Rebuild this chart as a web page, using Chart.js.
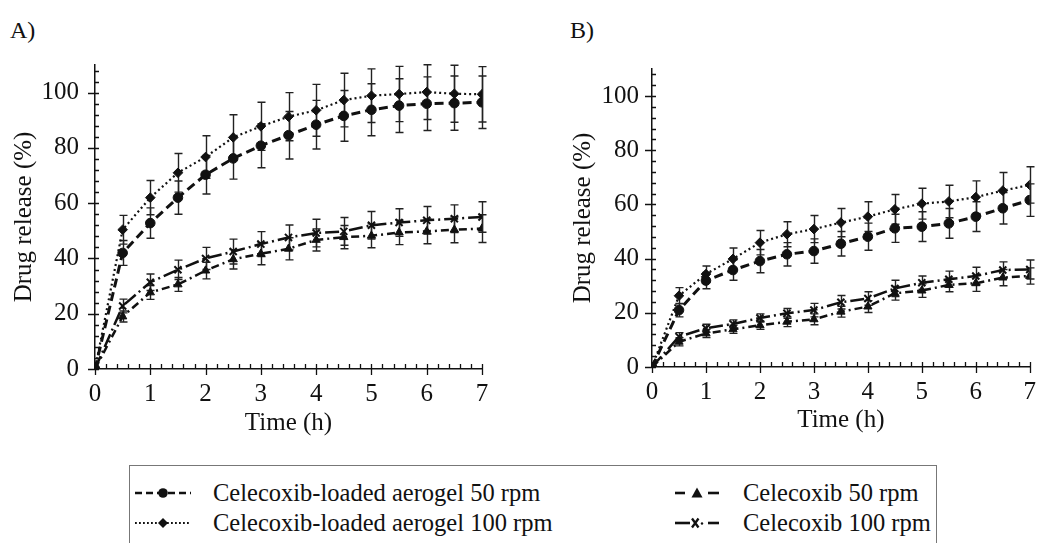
<!DOCTYPE html>
<html>
<head>
<meta charset="utf-8">
<script src="https://cdn.jsdelivr.net/npm/chart.js@4.4.1/dist/chart.umd.min.js"></script>
<style>
  html, body { margin: 0; padding: 0; background: #fff; }
  body { width: 1046px; height: 543px; position: relative; overflow: hidden;
         font-family: 'Liberation Serif', serif; color: #111; }
  canvas { position: absolute; top: 0; }
  #chartA { left: 0; }
  #chartB { left: 540px; }
  .panel-tag { position: absolute; top: 16px; font-size: 24px; line-height: 28px; }
  .legend-box { position: absolute; left: 129px; top: 465px; width: 806px; height: 100px;
                border: 1.5px solid #777; border-bottom: none; }
  .legend-item { position: absolute; font-size: 24.5px; line-height: 28px; white-space: nowrap; }
  .legend-item svg { position: absolute; top: 7px; overflow: visible; }
</style>
</head>
<body>
<div class="panel-tag" style="left:10px">A)</div>
<div class="panel-tag" style="left:570px">B)</div>
<canvas id="chartA" width="520" height="450"></canvas>
<canvas id="chartB" width="506" height="450"></canvas>
<div class="legend-box"></div>
<div id="legend"></div>

<script>
// Sampling times (h)
const times = [0, 0.5, 1, 1.5, 2, 2.5, 3, 3.5, 4, 4.5, 5, 5.5, 6, 6.5, 7];
const yTicks = [0, 20, 40, 60, 80, 100];

const seriesLabels = [
  'Celecoxib-loaded aerogel 50 rpm',
  'Celecoxib-loaded aerogel 100 rpm',
  'Celecoxib 50 rpm',
  'Celecoxib 100 rpm'
];

// Panel A - drug release (%) and SD
const aero50A   = [0, 42, 52.8, 62, 70.3, 76.2, 80.8, 84.6, 88.4, 91.6, 93.8, 95.3, 96, 96.2, 96.5];
const aero50ASd = [0, 4.5, 5.5, 6, 7, 7.5, 8, 8.6, 8.8, 9.2, 9.4, 9.7, 9.7, 9.8, 9.5];
const aero100A   = [0, 50.4, 62, 71, 76.7, 83.8, 87.8, 91.3, 93.6, 97.3, 98.9, 99.5, 100.2, 99.6, 99.4];
const aero100ASd = [0, 5.2, 6.2, 7, 7.7, 8.2, 8.7, 8.7, 9.4, 9.7, 9.7, 10, 9.9, 10.3, 10];
const cel50A   = [0, 19, 27.7, 30.6, 35.6, 39.7, 41.7, 43.5, 46.7, 47.7, 48.2, 49.4, 49.8, 50.4, 50.8];
const cel50ASd = [0, 2, 2.5, 2.5, 3, 3.5, 4, 4, 4, 4.2, 4.3, 4.4, 4.5, 4.7, 5];
const cel100A   = [0, 22.8, 31.4, 35.9, 40, 42.5, 45.2, 47.6, 49.2, 49.8, 52, 53, 53.8, 54.4, 55];
const cel100ASd = [0, 2.5, 3, 3.5, 4, 4.5, 4.5, 4.5, 5, 5, 5, 5, 5, 5, 5.5];

// Panel B
const aero50B   = [0, 21, 31.9, 35.8, 39.1, 41.6, 42.8, 45.5, 48.1, 51.2, 51.8, 53, 55.5, 58.6, 61.6];
const aero50BSd = [0, 2.5, 3, 3.8, 4.3, 4.3, 4.5, 4.5, 5, 5.2, 5.5, 5.5, 5.5, 5.8, 6];
const aero100B   = [0, 26.3, 34.3, 39.9, 45.9, 49, 50.9, 53.3, 55.5, 58.2, 60.3, 61.1, 62.7, 65.1, 67.2];
const aero100BSd = [0, 3, 3, 4, 4.5, 4.6, 5, 5.2, 5.5, 5.5, 5.7, 6, 6, 6.7, 6.7];
const cel50B   = [0, 9.3, 12.4, 13.9, 15.4, 16.7, 17.6, 20.4, 22.3, 27.2, 28.2, 30.3, 30.9, 33, 33.6];
const cel50BSd = [0, 1.5, 1.5, 1.5, 1.5, 1.8, 2, 2, 2.2, 2.5, 2.5, 2.5, 3, 3, 3];
const cel100B   = [0, 11.2, 14.3, 15.9, 18.1, 19.8, 21, 23.9, 25.3, 29, 31.1, 32.4, 33.6, 35.8, 36];
const cel100BSd = [0, 1.5, 1.5, 1.5, 1.5, 1.8, 2.5, 2.5, 2.5, 3, 2.5, 3, 3.2, 3, 3.5];

const ink = '#111';

// line / marker look per series (same order as seriesLabels)
const looks = [
  { dash: [9, 5], width: 3, point: 'circle', radius: 4.8, pbw: 1 },
  { dash: [2, 3], width: 2.2, point: 'rectRot', radius: 4.8, pbw: 1 },
  { dash: [8, 4, 2, 4], width: 2.5, point: 'triangle', radius: 4.8, pbw: 1 },
  { dash: [14, 4, 2, 4], width: 2.5, point: 'crossRot', radius: 5, pbw: 2 }
];

Chart.defaults.font.family = "'Liberation Serif', serif";
Chart.defaults.color = ink;

// vertical error bars, drawn under the markers
const errorBars = {
  id: 'errorBars',
  beforeDatasetsDraw(chart) {
    const { ctx, scales: { x, y } } = chart;
    ctx.save();
    ctx.strokeStyle = '#222';
    ctx.lineWidth = 1.4;
    chart.data.datasets.forEach(ds => {
      ds.data.forEach((p, j) => {
        const sd = ds.errors[j];
        if (!sd) return;
        const px = Math.round(x.getPixelForValue(p.x)) + 0.5;
        const top = y.getPixelForValue(p.y + sd);
        const bot = y.getPixelForValue(p.y - sd);
        ctx.beginPath();
        ctx.moveTo(px, top); ctx.lineTo(px, bot);
        ctx.moveTo(px - 4, top); ctx.lineTo(px + 4, top);
        ctx.moveTo(px - 4, bot); ctx.lineTo(px + 4, bot);
        ctx.stroke();
      });
    });
    ctx.restore();
  }
};

// major + minor tick marks crossing the axes
const axisTicks = {
  id: 'axisTicks',
  afterDraw(chart) {
    const { ctx, scales: { x, y }, chartArea: a } = chart;
    ctx.save();
    ctx.strokeStyle = ink;
    ctx.lineWidth = 1.3;
    ctx.beginPath();
    for (let i = 0; i <= 27; i++) {
      const py = Math.round(y.getPixelForValue(i * 4)) + 0.5;
      const major = i % 5 === 0;
      ctx.moveTo(a.left - (major ? 7 : 0), py);
      ctx.lineTo(a.left + 4, py);
    }
    for (let i = 0; i <= 35; i++) {
      const px = Math.round(x.getPixelForValue(i * 0.2)) + 0.5;
      const major = i % 5 === 0;
      ctx.moveTo(px, a.bottom + (major ? 6 : 0));
      ctx.lineTo(px, a.bottom - 5);
    }
    ctx.stroke();
    ctx.restore();
  }
};

function buildChart(id, series, geo) {
  return new Chart(document.getElementById(id), {
    type: 'line',
    data: {
      datasets: series.map((s, i) => ({
        label: seriesLabels[i],
        data: times.map((t, j) => ({ x: t, y: s.values[j] })),
        errors: s.sd,
        borderColor: ink,
        backgroundColor: ink,
        borderWidth: looks[i].width,
        borderDash: looks[i].dash,
        pointStyle: looks[i].point,
        pointRadius: looks[i].radius,
        pointBorderWidth: looks[i].pbw,
        tension: 0,
        fill: false
      }))
    },
    options: {
      responsive: false,
      animation: false,
      devicePixelRatio: 1,
      layout: { padding: { top: geo.top, right: geo.right, left: 0, bottom: 0 } },
      plugins: { legend: { display: false }, tooltip: { enabled: false } },
      scales: {
        x: {
          type: 'linear', min: 0, max: 7,
          grid: { display: false, drawTicks: false },
          border: { color: ink, width: 1.5 },
          ticks: { stepSize: 1, padding: 10, maxRotation: 0, font: { size: 25 }, color: ink },
          title: { display: true, text: 'Time (h)', font: { size: 25 }, color: ink,
                   padding: { top: 0, bottom: geo.xTitlePad } },
          afterFit: s => { s.height = geo.xHeight; }
        },
        y: {
          min: 0, max: 110,
          grid: { display: false, drawTicks: false },
          border: { color: ink, width: 1.5 },
          ticks: { stepSize: 20, includeBounds: false, padding: geo.yTickPad, font: { size: 25 }, color: ink },
          afterBuildTicks: s => { s.ticks = s.ticks.filter(t => yTicks.includes(t.value)); },
          title: { display: true, text: 'Drug release (%)', font: { size: 25 }, color: ink,
                   padding: { top: geo.yTitlePad, bottom: 0 } },
          afterFit: s => { s.width = geo.yWidth; }
        }
      }
    },
    plugins: [errorBars, axisTicks]
  });
}

buildChart('chartA', [
  { values: aero50A, sd: aero50ASd },
  { values: aero100A, sd: aero100ASd },
  { values: cel50A, sd: cel50ASd },
  { values: cel100A, sd: cel100ASd }
], { top: 65, right: 38, yWidth: 95, xHeight: 81, yTickPad: 16, yTitlePad: 9, xTitlePad: 12 });

buildChart('chartB', [
  { values: aero50B, sd: aero50BSd },
  { values: aero100B, sd: aero100BSd },
  { values: cel50B, sd: cel50BSd },
  { values: cel100B, sd: cel100BSd }
], { top: 69, right: 6, yWidth: 112, xHeight: 83, yTickPad: 13, yTitlePad: 28, xTitlePad: 15 });

// Legend (HTML text + small svg line samples)
const samples = [
  '<line x1="0" y1="7" x2="56" y2="7" stroke="#111" stroke-width="2.6" stroke-dasharray="7,4"/>' +
    '<circle cx="28" cy="7" r="4.8" fill="#111"/>',
  '<line x1="0" y1="7" x2="56" y2="7" stroke="#111" stroke-width="2.2" stroke-dasharray="1.8,2.2"/>' +
    '<polygon points="28,2 33,7 28,12 23,7" fill="#111"/>',
  '<line x1="0" y1="7" x2="10" y2="7" stroke="#111" stroke-width="2.6"/>' +
    '<polygon points="22,1.5 27.5,11.5 16.5,11.5" fill="#111"/>' +
    '<line x1="33" y1="7" x2="44" y2="7" stroke="#111" stroke-width="2.6"/>',
  '<line x1="0" y1="7" x2="15" y2="7" stroke="#111" stroke-width="2.6"/>' +
    '<path d="M17 2.5 L23.5 11.5 M23.5 2.5 L17 11.5" stroke="#111" stroke-width="2.3"/>' +
    '<circle cx="27" cy="7.5" r="1.2" fill="#111"/>' +
    '<line x1="33" y1="7" x2="44" y2="7" stroke="#111" stroke-width="2.6"/>'
];
const legendSpots = [
  { sx: 135, tx: 213, cy: 493, w: 56 },
  { sx: 135, tx: 213, cy: 523, w: 56 },
  { sx: 675, tx: 743, cy: 493, w: 44 },
  { sx: 675, tx: 743, cy: 523, w: 44 }
];
const legendEl = document.getElementById('legend');
seriesLabels.forEach((lab, i) => {
  const s = legendSpots[i];
  const item = document.createElement('div');
  item.className = 'legend-item';
  item.style.left = s.tx + 'px';
  item.style.top = (s.cy - 14) + 'px';
  item.innerHTML = '<svg width="' + s.w + '" height="14" style="left:' + (s.sx - s.tx) + 'px">' +
    samples[i] + '</svg>';
  item.appendChild(document.createTextNode(lab));
  legendEl.appendChild(item);
});
</script>
</body>
</html>
